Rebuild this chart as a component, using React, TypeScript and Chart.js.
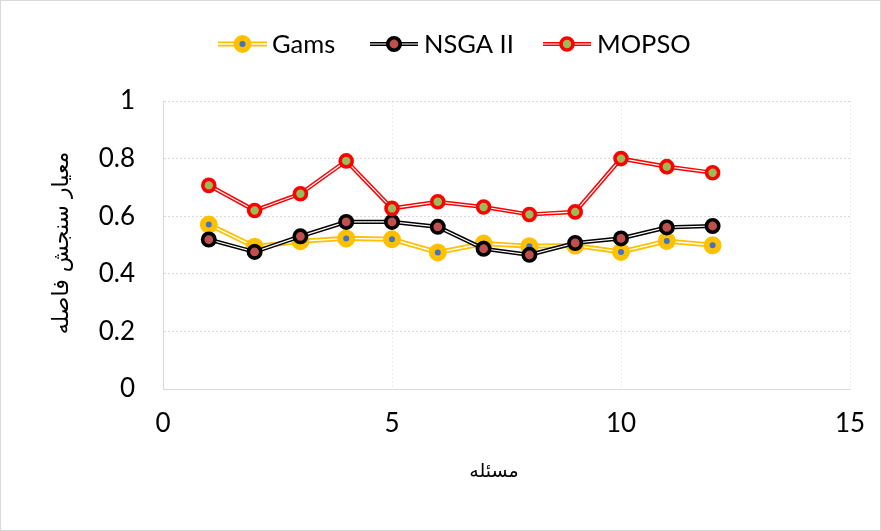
import React, { useEffect, useRef } from "react";
import { Chart, registerables } from "chart.js";
Chart.register(...registerables);

const problems = [1, 2, 3, 4, 5, 6, 7, 8, 9, 10, 11, 12];
const gams = [0.571, 0.494, 0.513, 0.523, 0.52, 0.474, 0.505, 0.496, 0.498, 0.476, 0.514, 0.499];
const nsga = [0.519, 0.476, 0.53, 0.58, 0.58, 0.563, 0.487, 0.466, 0.507, 0.523, 0.561, 0.566];
const mopso = [0.707, 0.62, 0.678, 0.792, 0.627, 0.65, 0.632, 0.606, 0.615, 0.8, 0.772, 0.751];
const seriesNames = ["Gams", "NSGA II", "MOPSO"];
const xTitle = "مسئله";
const yTitle = "معیار سنجش فاصله";

const FONT = "Lato, 'Open Sans', sans-serif";

type Style = { line: string; lw: number; white: number; r: number; bw: number; fill: string };
const styles: Style[] = [
  { line: "#FFC000", lw: 5, white: 1.4, r: 6, bw: 6, fill: "#4472C4" },
  { line: "#000000", lw: 4.2, white: 1.2, r: 6.2, bw: 3.6, fill: "#C0504D" },
  { line: "#FF0000", lw: 4.2, white: 1.2, r: 6, bw: 3.6, fill: "#9BBB59" },
];

const legendPos = [
  { x1: 218, x2: 267, tx: 272 },
  { x1: 370, x2: 418, tx: 424 },
  { x1: 543, x2: 591, tx: 597 },
];

const extras = {
  id: "extras",
  afterDraw(chart: any) {
    const ctx = chart.ctx as CanvasRenderingContext2D;
    ctx.save();
    // frame
    ctx.strokeStyle = "#d9d9d9";
    ctx.lineWidth = 1;
    ctx.strokeRect(0.5, 0.5, 880, 530);
    // legend
    const ly = 44;
    seriesNames.forEach((name, i) => {
      const s = styles[i];
      const p = legendPos[i];
      ctx.lineCap = "butt";
      ctx.strokeStyle = s.line;
      ctx.lineWidth = s.lw;
      ctx.beginPath();
      ctx.moveTo(p.x1, ly);
      ctx.lineTo(p.x2, ly);
      ctx.stroke();
      ctx.strokeStyle = "#ffffff";
      ctx.lineWidth = s.white;
      ctx.beginPath();
      ctx.moveTo(p.x1, ly);
      ctx.lineTo(p.x2, ly);
      ctx.stroke();
      const cx = (p.x1 + p.x2) / 2;
      ctx.beginPath();
      ctx.arc(cx, ly, s.r, 0, Math.PI * 2);
      ctx.fillStyle = s.fill;
      ctx.fill();
      ctx.lineWidth = s.bw;
      ctx.strokeStyle = s.line;
      ctx.stroke();
      ctx.fillStyle = "#000000";
      ctx.font = `25.5px ${FONT}`;
      ctx.textAlign = "left";
      ctx.textBaseline = "middle";
      ctx.fillText(name, p.tx, ly + 1);
    });
    // axis titles
    ctx.fillStyle = "#000000";
    ctx.font = "19px 'DejaVu Sans', sans-serif";
    ctx.textAlign = "center";
    ctx.textBaseline = "middle";
    ctx.fillText(xTitle, 494, 472);
    ctx.save();
    ctx.font = "22px 'DejaVu Sans', sans-serif";
    ctx.translate(62, 243);
    ctx.rotate(-Math.PI / 2);
    ctx.fillText(yTitle, 0, 0);
    ctx.restore();
    ctx.restore();
  },
};

export default function App() {
  const ref = useRef<HTMLCanvasElement | null>(null);
  useEffect(() => {
    if (!ref.current) return;
    const all = [gams, nsga, mopso];
    const datasets: any[] = [];
    all.forEach((vals, i) => {
      const s = styles[i];
      const data = problems.map((x, k) => ({ x, y: vals[k] }));
      const base = 100 - i * 10;
      datasets.push({
        label: seriesNames[i],
        data,
        borderColor: s.line,
        borderWidth: s.lw,
        pointRadius: 0,
        fill: false,
        tension: 0,
        order: base,
      });
      datasets.push({
        label: seriesNames[i] + "-inner",
        data,
        borderColor: "#ffffff",
        borderWidth: s.white,
        pointRadius: 0,
        fill: false,
        tension: 0,
        order: base - 1,
      });
      datasets.push({
        label: seriesNames[i] + "-pts",
        data,
        showLine: false,
        pointRadius: s.r,
        pointBorderWidth: s.bw,
        pointBorderColor: s.line,
        pointBackgroundColor: s.fill,
        order: base - 2,
      });
    });
    const chart = new Chart(ref.current, {
      type: "line",
      data: { datasets },
      options: {
        responsive: false,
        animation: false,
        events: [],
        layout: { padding: { left: 0, top: 101, right: 31, bottom: 0 } },
        plugins: { legend: { display: false }, tooltip: { enabled: false } },
        scales: {
          x: {
            type: "linear",
            min: 0,
            max: 15,
            ticks: { stepSize: 5, color: "#000", font: { family: FONT, size: 26 }, padding: 19 },
            grid: { color: "#ececec", drawTicks: false, lineWidth: 1 },
            border: { display: true, color: "#d9d9d9", width: 1, dash: [2, 2] },
            afterFit: (s: any) => {
              s.height = 142;
              s.paddingLeft = 0;
              s.paddingRight = 0;
            },
          },
          y: {
            type: "linear",
            min: 0,
            max: 1,
            ticks: {
              stepSize: 0.2,
              color: "#000",
              font: { family: FONT, size: 26 },
              padding: 28,
              callback: (v: any) => String(Math.round(Number(v) * 10) / 10),
            },
            grid: { color: "#d9d9d9", drawTicks: false, lineWidth: 1 },
            border: { display: true, color: "#d9d9d9", width: 1, dash: [2, 2] },
            afterFit: (s: any) => {
              s.width = 163;
              s.paddingTop = 0;
              s.paddingBottom = 0;
            },
          },
        },
      },
      plugins: [extras],
    });
    return () => chart.destroy();
  }, []);
  return (
    <div style={{ position: "fixed", left: 0, top: 0, width: 881, height: 531, background: "#fff" }}>
      <canvas ref={ref} width={881} height={531} style={{ display: "block" }} />
    </div>
  );
}
